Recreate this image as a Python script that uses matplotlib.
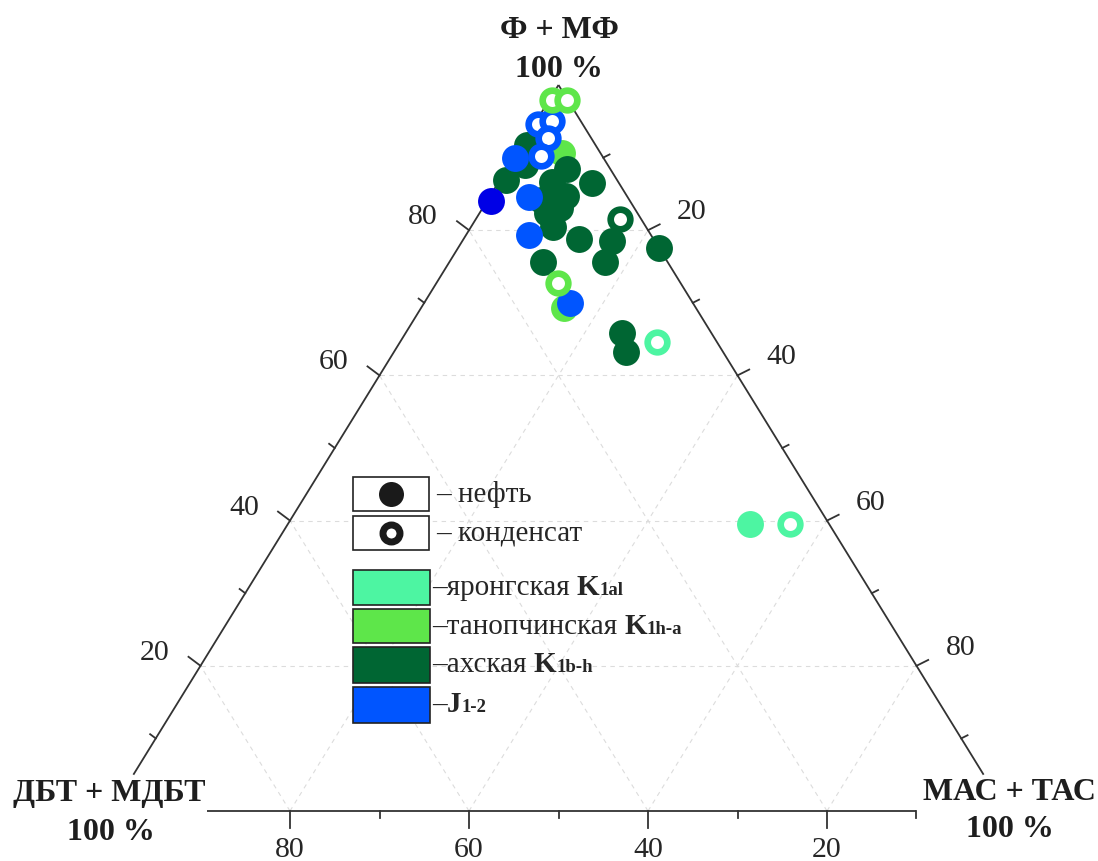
import matplotlib
matplotlib.use("Agg")
import matplotlib.pyplot as plt
from matplotlib.patches import Rectangle
from matplotlib.offsetbox import TextArea, HPacker, AnnotationBbox
import numpy as np

# ---------------- data (ternary %, F = Ф+МФ, M = МАС+ТАС, ДБТ+МДБТ = 100-F-M) ----
# яронгская K1al
yar_oil_F = [39.5]
yar_oil_M = [51.7]
yar_cond_F = [64.6, 39.5]
yar_cond_M = [28.7, 56.1]
# танопчинская K1h-a
tan_oil_F = [90.6, 69.3]
tan_oil_M = [5.1, 16.0]
tan_cond_F = [97.9, 98.0, 72.7]
tan_cond_M = [0.3, 2.0, 13.6]
# ахская K1b-h
akh_oil_F = [91.7, 89.0, 86.9, 86.6, 88.4, 86.5, 84.2, 83.1, 82.4, 84.7,
             80.4, 78.8, 78.5, 77.5, 75.6, 75.6, 65.8, 63.2]
akh_oil_M = [0.6, 1.8, 0.7, 6.0, 6.7, 10.5, 5.9, 8.6, 7.5, 8.5,
             9.2, 12.9, 16.7, 22.5, 10.5, 17.4, 24.2, 25.9]
akh_cond_F = [81.5]
akh_cond_M = [16.1]
# J1-2
j_oil_F = [89.9, 84.6, 79.3, 70.0]
j_oil_M = [0.2, 4.4, 7.0, 16.3]
j_oil_dark_F = [84.0]
j_oil_dark_M = [0.45]
j_cond_F = [94.6, 95.0, 92.7, 90.2]
j_cond_M = [0.4, 1.8, 2.5, 2.9]

tick_values = [20, 40, 60, 80]

C_YAR = "#4DF5A2"
C_TAN = "#5EE64A"
C_AKH = "#006633"
C_J = "#0055FF"
C_JD = "#0000E6"

# ---------------- figure / layout ----------------
W, H, DPI = 1098, 861, 100
fig = plt.figure(figsize=(W / DPI, H / DPI), dpi=DPI)
ax = fig.add_axes([0, 0, 1, 1])
ax.set_axis_off()

X0, Y0 = 111.0, 811.0   # pixel of left vertex
SX, SY = 8.95, 7.26     # pixels per ternary unit
ax.set_xlim((0 - X0) / SX, (W - X0) / SX)
ax.set_ylim((Y0 - H) / SY, (Y0 - 0) / SY)

SERIF = ["Liberation Serif", "DejaVu Serif"]
TXT = "#262626"
AXC = "#333333"


def tern(F, M):
    F = np.asarray(F, float)
    M = np.asarray(M, float)
    return M + F / 2.0, F


def px(x, y):
    return (x - X0) / SX, (Y0 - y) / SY


def pxd(dx, dy):
    return dx / SX, -dy / SY


# ---------------- grid ----------------
for v in tick_values:
    xa, ya = tern(v, 0)
    xb, yb = tern(v, 100 - v)
    ax.plot([xa, xb], [ya, yb], color="#dcdcdc", lw=0.8, ls=(0, (4, 4)), zorder=1)
    xa, ya = tern(0, v)
    xb, yb = tern(100 - v, v)
    ax.plot([xa, xb], [ya, yb], color="#dcdcdc", lw=0.8, ls=(0, (4, 4)), zorder=1)
    xa, ya = tern(0, 100 - v)
    xb, yb = tern(100 - v, 0)
    ax.plot([xa, xb], [ya, yb], color="#dcdcdc", lw=0.8, ls=(0, (4, 4)), zorder=1)

# ---------------- axis lines ----------------
lw_ax = 1.3
xa, ya = tern(5, 0); xb, yb = tern(100, 0)
ax.plot([xa, xb], [ya, yb], color=AXC, lw=lw_ax, zorder=2, solid_capstyle="butt")
xa, ya = tern(100, 0); xb, yb = tern(5, 95)
ax.plot([xa, xb], [ya, yb], color=AXC, lw=lw_ax, zorder=2, solid_capstyle="butt")
xa, ya = tern(0, 10.7); xb, yb = tern(0, 90)
ax.plot([xa, xb], [ya, yb], color=AXC, lw=lw_ax, zorder=2, solid_capstyle="butt")

# ---------------- ticks ----------------
for v in range(10, 100, 10):
    major = v % 20 == 0
    L = 15 if major else 7
    x, y = tern(v, 0)
    dx, dy = pxd(-0.8 * L, -0.6 * L)
    ax.plot([x, x + dx], [y, y + dy], color=AXC, lw=lw_ax, zorder=2)
    L = 13 if major else 7
    x, y = tern(v, 100 - v)
    dx, dy = pxd(0.9 * L, -0.45 * L)
    ax.plot([x, x + dx], [y, y + dy], color=AXC, lw=lw_ax, zorder=2)
    if v >= 20:
        L = 17 if major else 7
        x, y = tern(0, v)
        dx, dy = pxd(0, L)
        ax.plot([x, x + dx], [y, y + dy], color=AXC, lw=lw_ax, zorder=2)

for v in tick_values:
    x, y = tern(v, 0)
    dx, dy = pxd(-46, -13)
    ax.text(x + dx, y + dy, str(v), ha="center", va="center", fontsize=21.5,
            family=SERIF, color=TXT)
    x, y = tern(v, 100 - v)
    dx, dy = pxd(44, -18)
    ax.text(x + dx, y + dy, str(100 - v), ha="center", va="center", fontsize=21.5,
            family=SERIF, color=TXT)
    x, y = tern(0, 100 - v)
    dx, dy = pxd(0, 39)
    ax.text(x + dx, y + dy, str(v), ha="center", va="center", fontsize=21.5,
            family=SERIF, color=TXT)

# ---------------- vertex labels ----------------
def vlabel(xp, yp, s):
    x, y = px(xp, yp)
    ax.text(x, y, s, ha="center", va="baseline", fontsize=23, fontweight="bold",
            family=SERIF, color="#1e1e1e")

vlabel(559, 38, "Ф + МФ")
vlabel(559, 77, "100 %")
vlabel(109, 801, "ДБТ + МДБТ")
vlabel(111, 840, "100 %")
vlabel(1009, 800, "МАС + ТАС")
vlabel(1010, 837, "100 %")

# ---------------- data points ----------------
S_FILL = 375
S_RING = 200
LW_RING = 4.8


def filled(F, M, c, z):
    x, y = tern(F, M)
    ax.scatter(x, y, s=S_FILL, c=c, linewidths=0, zorder=z)


def ring(F, M, c, z):
    x, y = tern(F, M)
    ax.scatter(x, y, s=S_RING, facecolors="white", edgecolors=c,
               linewidths=LW_RING, zorder=z)


filled(yar_oil_F, yar_oil_M, C_YAR, 3)
ring(yar_cond_F, yar_cond_M, C_YAR, 3)
filled(tan_oil_F, tan_oil_M, C_TAN, 4)
filled(akh_oil_F, akh_oil_M, C_AKH, 5)
ring(akh_cond_F, akh_cond_M, C_AKH, 5)
filled(j_oil_F, j_oil_M, C_J, 6)
filled(j_oil_dark_F, j_oil_dark_M, C_JD, 6)
ring(j_cond_F, j_cond_M, C_J, 7)
ring(tan_cond_F, tan_cond_M, C_TAN, 8)

# ---------------- legend ----------------
def box(x0, y0, x1, y1, fc):
    xa, ya = px(x0, y1)
    xb, yb = px(x1, y0)
    ax.add_patch(Rectangle((xa, ya), xb - xa, yb - ya, facecolor=fc,
                           edgecolor="#222222", lw=1.2, zorder=9))

box(353, 477, 429, 511, "white")
box(353, 516, 429, 550, "white")
x, y = px(391, 494)
ax.scatter([x], [y], s=324, c="#1a1a1a", linewidths=0, zorder=10)
x, y = px(391, 533)
ax.scatter([x], [y], s=150, facecolors="white", edgecolors="#1a1a1a",
           linewidths=5, zorder=10)

legend_colors = [C_YAR, C_TAN, C_AKH, C_J]
legend_names = ["–яронгская ", "–танопчинская ", "–ахская ", "–"]
legend_sym = ["K", "K", "K", "J"]
legend_sub = ["1al", "1h-a", "1b-h", "1-2"]
rows = [(570, 605), (609, 643), (647, 683), (687, 723)]
for (ya_, yb_), c in zip(rows, legend_colors):
    box(353, ya_, 430, yb_, c)


def packed(parts, xp, yp):
    kids = [TextArea(s, textprops=dict(fontsize=fs, fontweight=fw, family=SERIF,
                                       color=TXT)) for s, fs, fw in parts]
    hp = HPacker(children=kids, align="baseline", pad=0, sep=0)
    ab = AnnotationBbox(hp, px(xp, yp), xycoords="data", box_alignment=(0, 0.5),
                        frameon=False, pad=0, zorder=11)
    ax.add_artist(ab)


packed([("– нефть", 21, "normal")], 436, 494)
packed([("– конденсат", 21, "normal")], 436, 533)
for (ya_, yb_), nm, sy, sb in zip(rows, legend_names, legend_sym, legend_sub):
    packed([(nm, 21, "normal"), (sy, 21, "bold"), (sb, 13.5, "bold")],
           432, (ya_ + yb_) / 2)

fig.savefig("out.png", dpi=DPI, facecolor="white")
